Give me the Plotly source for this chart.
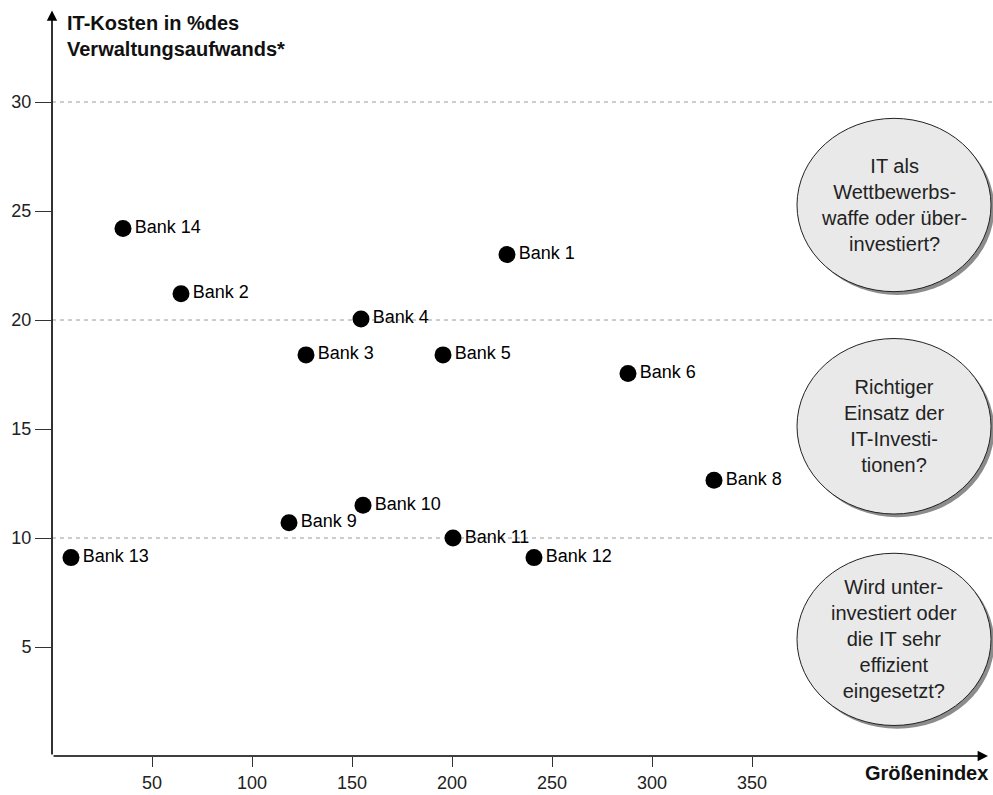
import plotly.graph_objects as go

banks = ["Bank 1", "Bank 2", "Bank 3", "Bank 4", "Bank 5", "Bank 6", "Bank 8",
         "Bank 9", "Bank 10", "Bank 11", "Bank 12", "Bank 13", "Bank 14"]
size_index = [227.5, 64.5, 127, 154.5, 195.5, 288, 331, 118.5, 155.5, 200.5, 241, 9.5, 35.5]
it_costs = [23.0, 21.2, 18.4, 20.05, 18.4, 17.55, 12.65, 10.7, 11.5, 10.0, 9.1, 9.1, 24.2]

x_ticks = [50, 100, 150, 200, 250, 300, 350]
y_ticks = [5, 10, 15, 20, 25, 30]
grid_levels = [10, 20, 30]

bubble_texts = [
    "IT als<br>Wettbewerbs-<br>waffe oder über-<br>investiert?",
    "Richtiger<br>Einsatz der<br>IT-Investi-<br>tionen?",
    "Wird unter-<br>investiert oder<br>die IT sehr<br>effizient<br>eingesetzt?",
]
bubble_y = [(21.3, 29.25), (11.1, 19.15), (1.4, 9.3)]

FONT = "Arial, Liberation Sans, sans-serif"
XMAX = 470.5
YMAX = 34.22

fig = go.Figure()
fig.add_trace(go.Scatter(
    x=size_index, y=it_costs, mode="markers+text",
    text=banks, textposition="middle right",
    textfont=dict(family=FONT, size=18, color="#000"),
    marker=dict(size=17, color="#000"),
    cliponaxis=False, hoverinfo="skip", showlegend=False,
))

shapes = []
for g in grid_levels:
    shapes.append(dict(type="line", xref="x", yref="y", x0=0, x1=XMAX, y0=g, y1=g,
                       line=dict(color="#9a9a9a", width=1, dash="4px,4px"), layer="below"))

x0e, x1e = 372.5, 469.5
for (ya, yb), txt in zip(bubble_y, bubble_texts):
    shapes.append(dict(type="circle", xref="x", yref="y", x0=x0e + 1.6, x1=x1e + 1.6,
                       y0=ya - 0.15, y1=yb - 0.15, fillcolor="#8c8c8c",
                       line=dict(width=0), layer="above"))
    shapes.append(dict(type="circle", xref="x", yref="y", x0=x0e, x1=x1e,
                       y0=ya, y1=yb, fillcolor="#e9e9e9",
                       line=dict(color="#222", width=1), layer="above"))

annotations = []
for (ya, yb), txt in zip(bubble_y, bubble_texts):
    annotations.append(dict(x=(x0e + x1e) / 2, y=(ya + yb) / 2, xref="x", yref="y",
                            text=txt, showarrow=False,
                            font=dict(family=FONT, size=20, color="#222"),
                            xanchor="center", yanchor="middle", align="center"))

# axis arrows
annotations.append(dict(x=0, y=YMAX - 0.02, ax=0, ay=0, xref="x", yref="y", axref="x", ayref="y",
                        text="", showarrow=True, arrowhead=2, arrowsize=1.3, arrowwidth=1.6,
                        arrowcolor="#000", standoff=0))
annotations.append(dict(x=468, y=0, ax=0, ay=0, xref="x", yref="y", axref="x", ayref="y",
                        text="", showarrow=True, arrowhead=2, arrowsize=1.3, arrowwidth=1.6,
                        arrowcolor="#000", standoff=0))

annotations.append(dict(x=6.5, y=33.05, xref="x", yref="y",
                        text="<b>IT-Kosten in %des<br>Verwaltungsaufwands*</b>",
                        showarrow=False, xanchor="left", yanchor="middle", align="left",
                        font=dict(family=FONT, size=20, color="#111")))
annotations.append(dict(x=0.997, y=-0.023, xref="paper", yref="paper",
                        text="<b>Größenindex</b>", showarrow=False,
                        xanchor="right", yanchor="middle",
                        font=dict(family=FONT, size=20, color="#111")))

fig.update_layout(
    width=993, height=795,
    margin=dict(l=52, r=0, t=10, b=39),
    paper_bgcolor="white", plot_bgcolor="white",
    shapes=shapes, annotations=annotations,
    xaxis=dict(range=[0, XMAX], tickvals=x_ticks, showgrid=False, zeroline=False,
               showline=False, ticks="outside", ticklen=10, tickwidth=1.2, tickcolor="#333",
               tickfont=dict(family=FONT, size=18, color="#222")),
    yaxis=dict(range=[0, YMAX], tickvals=y_ticks, showgrid=False, zeroline=False,
               showline=False, ticks="outside", ticklen=16, tickwidth=1.2, tickcolor="#333",
               tickfont=dict(family=FONT, size=18, color="#222")),
)

fig.write_html("out.html")
